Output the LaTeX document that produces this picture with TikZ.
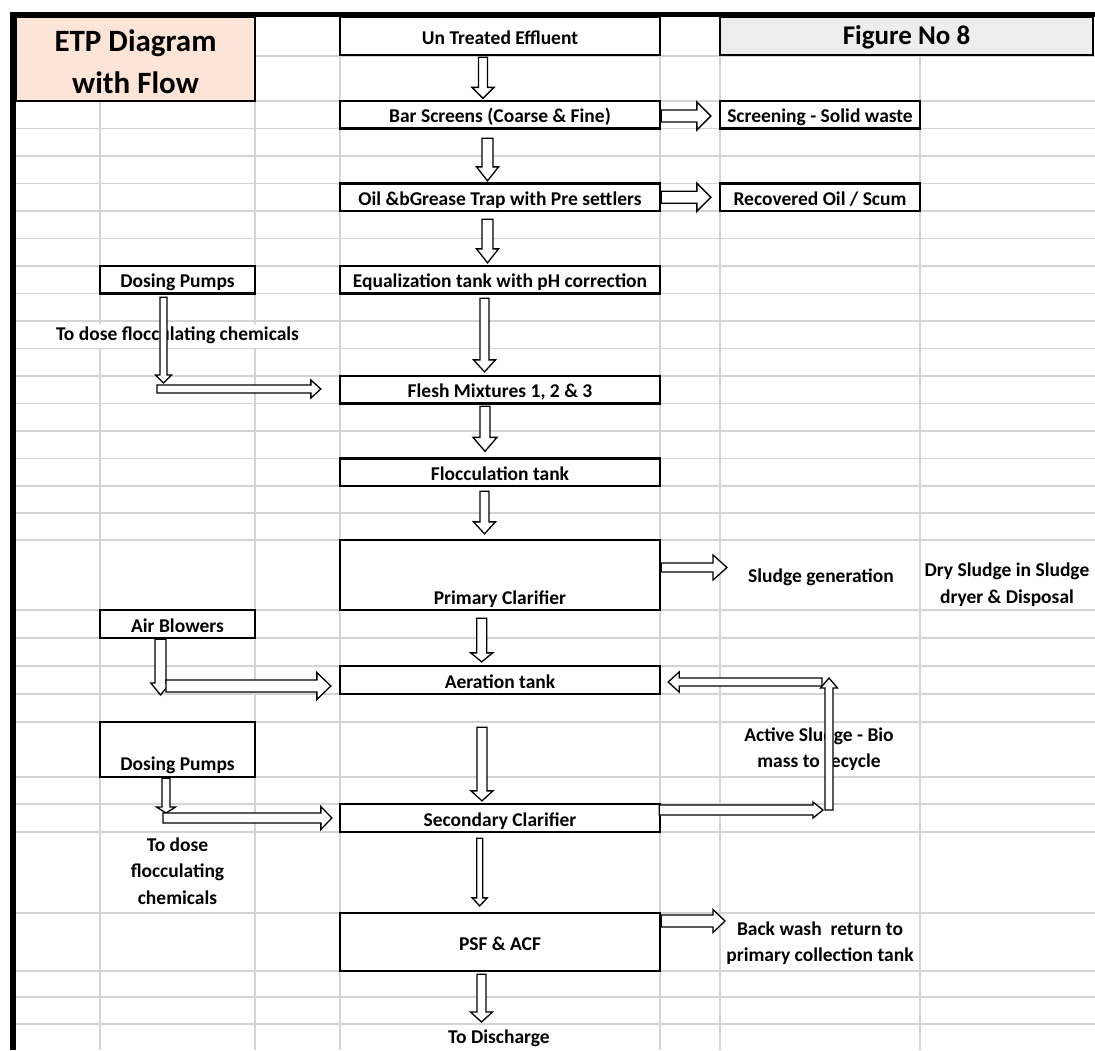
\documentclass[tikz,border=0pt]{standalone}
\usepackage{fontspec}
\setmainfont{Carlito}
\usetikzlibrary{calc}

\definecolor{gridgray}{HTML}{D4D4D4}
\definecolor{titlefill}{HTML}{FCE4D6}
\definecolor{figfill}{HTML}{EDEDED}

\newcommand{\cellfont}{\bfseries\fontsize{19.5}{26.5}\selectfont}

% hollow block arrow: #1 tail, #2 tip, #3 shaft half width, #4 head half width, #5 head length
\newcommand{\blockarrow}[5]{%
  \coordinate (ba-neck) at ($(#2)!#5!(#1)$);
  \draw[flowarrow] ($(#1)!#3!90:(#2)$) -- ($(ba-neck)!#3!-90:(#1)$)
    -- ($(ba-neck)!#4!-90:(#1)$) -- (#2) -- ($(ba-neck)!#4!90:(#1)$)
    -- ($(ba-neck)!#3!90:(#1)$) -- ($(#1)!#3!-90:(#2)$) -- cycle;}

\tikzset{
  gridline/.style={draw=gridgray, line width=1.3pt},
  procbox/.style={draw=black, line width=2.3pt, fill=white, inner sep=0pt,
    font=\cellfont, text height=16pt, text depth=0pt,
    minimum width=320pt, minimum height=27.5pt},
  sidebox/.style={procbox, minimum width=155pt},
  outbox/.style={procbox, minimum width=200pt},
  celltext/.style={inner sep=0pt, font=\cellfont, align=center},
  flowarrow/.style={draw=black, fill=white, line width=1.3pt, line join=miter},
}

\begin{document}
\begin{tikzpicture}[x=1pt, y=-1pt]
\useasboundingbox (0,0) rectangle (1095,1050);
\fill[white] (0,0) rectangle (1095,1050);

% sheet grid
\foreach \gy in {56,101,128.5,156,183.5,211,238.5,266,293.5,321,348.5,376,403.5,431,458.5,486,513,540,610,638,666,694,722,777,804,832,913,971,997,1024}
  \draw[gridline] (16,\gy) -- (1095,\gy);
\foreach \gx in {100,255,340,660,720,920}
  \draw[gridline] (\gx,17) -- (\gx,1050);

% heading cells
\node[draw=black, line width=2.3pt, fill=titlefill, inner sep=0pt,
      minimum width=239pt, minimum height=84pt,
      label={[align=center, inner sep=0pt, yshift=-3pt,
              font=\bfseries\fontsize{31}{42}\selectfont]center:ETP Diagram\\with Flow}] (title) at (135.5,59) {};
\node[procbox, minimum height=38pt] (ute) at (500,36) {Un Treated Effluent};
\node[procbox, fill=figfill, minimum width=373pt, minimum height=38pt,
      font=\bfseries\fontsize{27}{30}\selectfont] (fig) at (906.5,36) {Figure No 8};

% sheet frame
\draw[line width=5pt] (9.5,14.2) -- (1095,14.2);
\draw[line width=6pt] (12.5,11.7) -- (12.5,1050);

% process boxes
\node[procbox] (bar) at (500,114.75) {Bar Screens (Coarse \& Fine)};
\node[outbox] (scr) at (820,114.75) {Screening - Solid waste};
\node[procbox] (oil) at (500,197.25) {Oil \&bGrease Trap with Pre settlers};
\node[outbox] (rec) at (820,197.25) {Recovered Oil / Scum};
\node[sidebox] (dp1) at (177.5,279.75) {Dosing Pumps};
\node[procbox] (eq) at (500,279.75) {Equalization tank with pH correction};
\node[procbox] (flesh) at (500,389.75) {Flesh Mixtures 1, 2 \& 3};
\node[procbox] (floc) at (500,472.25) {Flocculation tank};
\node[procbox, minimum height=70pt,
      label={[celltext, anchor=south, yshift=3pt]south:Primary Clarifier}] (prim) at (500,575) {};
\node[sidebox, minimum height=28pt] (air) at (177.5,624) {Air Blowers};
\node[procbox, minimum height=28pt] (aer) at (500,680) {Aeration tank};
\node[sidebox, minimum height=55pt,
      label={[celltext, anchor=south, yshift=4pt]south:Dosing Pumps}] (dp2) at (177.5,749.5) {};
\node[procbox, minimum height=28pt] (sec) at (500,818) {Secondary Clarifier};
\node[procbox, minimum height=58pt] (psf) at (500,942) {PSF \& ACF};

% free-standing cell texts
\node[celltext, fill=white, minimum height=24pt] (dosetxt1) at (177.5,335.5) {To dose flocculating chemicals};
\node[celltext] (sludge) at (821,577) {Sludge generation};
\node[celltext] (dry) at (1007,584.5) {Dry Sludge in Sludge\\dryer \& Disposal};
\node[celltext] (active) at (819,749) {Active Sludge - Bio\\mass to recycle};
\node[celltext] (dosetxt2) at (177.5,871) {To dose\\flocculating\\chemicals};
\node[celltext] (backwash) at (820,943) {Back wash\ \ return to\\primary collection tank};
\node[celltext] (disc) at (499,1038) {To Discharge};

% arrow end points
\coordinate (a1s) at ($(ute.south)+(-17,1)$);
\coordinate (a1e) at ($(bar.north)+(-17,-1.5)$);
\coordinate (a2s) at ($(bar.south)+(-12.5,8.5)$);
\coordinate (a2e) at ($(oil.north)+(-12.5,-1.5)$);
\coordinate (a3s) at ($(oil.south)+(-12.5,7)$);
\coordinate (a3e) at ($(eq.north)+(-12.5,-2)$);
\coordinate (a4s) at ($(eq.south)+(-15.5,3.5)$);
\coordinate (a4e) at ($(flesh.north)+(-15.5,-3)$);
\coordinate (a5s) at ($(flesh.south)+(-15,1.5)$);
\coordinate (a5e) at ($(floc.north)+(-15,-6)$);
\coordinate (a6s) at ($(floc.south)+(-15.5,4)$);
\coordinate (a6e) at ($(prim.north)+(-15.5,-5)$);
\coordinate (a7s) at ($(prim.south)+(-18.3,7)$);
\coordinate (a7e) at ($(aer.north)+(-18.3,-3)$);
\coordinate (a8s) at ($(aer.south)+(-18,32)$);
\coordinate (a8e) at ($(sec.north)+(-18,-2)$);
\coordinate (a9s) at ($(sec.south)+(-20.3,5)$);
\coordinate (a9e) at ($(psf.north)+(-20.3,-6)$);
\coordinate (a10s) at ($(psf.south)+(-18.5,2)$);
\coordinate (a10e) at ($(disc.center)+(-17.5,-16)$);

\coordinate (b1s) at ($(bar.east)+(0,1.25)$);
\coordinate (b1e) at ($(scr.west)+(-8,1.25)$);
\coordinate (b2s) at ($(oil.east)+(0,0)$);
\coordinate (b2e) at ($(rec.west)+(-8,0)$);

\coordinate (c1s) at ($(dp1.south)+(-14,2.5)$);
\coordinate (c1e) at (163.5,383);
\coordinate (c2s) at (157,389);
\coordinate (c2e) at ($(flesh.west)+(-18,-0.75)$);

\coordinate (d1s) at ($(air.south)+(-17,0)$);
\coordinate (d1e) at (160.5,695);
\coordinate (d2s) at (166,686);
\coordinate (d2e) at ($(aer.west)+(-8,6)$);

\coordinate (e1s) at ($(dp2.south)+(-11.5,0)$);
\coordinate (e1e) at (166,813);
\coordinate (e2s) at (163,818);
\coordinate (e2e) at ($(sec.west)+(-7,0)$);

\coordinate (f1s) at ($(prim.east)+(0,-7.5)$);
\coordinate (f1e) at (727,567.5);

\coordinate (g1s) at ($(sec.east)+(-2,-8)$);
\coordinate (g1e) at (823,810);
\coordinate (g2s) at (829,810);
\coordinate (g2e) at (829,678);
\coordinate (g3s) at (822,682);
\coordinate (g3e) at ($(aer.east)+(7,2)$);

\coordinate (h1s) at ($(psf.east)+(0,-21)$);
\coordinate (h1e) at (725,921);

% main treatment line
\blockarrow{a1s}{a1e}{4.5pt}{11pt}{11pt}
\blockarrow{a2s}{a2e}{5.5pt}{11pt}{14pt}
\blockarrow{a3s}{a3e}{5.5pt}{11pt}{14pt}
\blockarrow{a4s}{a4e}{4.5pt}{11pt}{12pt}
\blockarrow{a5s}{a5e}{5pt}{12pt}{14pt}
\blockarrow{a6s}{a6e}{4.5pt}{11pt}{12pt}
\blockarrow{a7s}{a7e}{5pt}{11pt}{9pt}
\blockarrow{a8s}{a8e}{5pt}{11pt}{10pt}
\blockarrow{a9s}{a9e}{3pt}{7.5pt}{8pt}
\blockarrow{a10s}{a10e}{4.5pt}{11pt}{10pt}

% side streams
\blockarrow{b1s}{b1e}{6pt}{14pt}{14pt}
\blockarrow{b2s}{b2e}{6pt}{14pt}{14pt}
\blockarrow{f1s}{f1e}{4.5pt}{12.5pt}{14pt}
\blockarrow{h1s}{h1e}{6pt}{11.5pt}{12pt}

% chemical and air feeds
\blockarrow{c2s}{c2e}{4pt}{9pt}{10pt}
\blockarrow{c1s}{c1e}{3.5pt}{8pt}{8pt}
\blockarrow{d1s}{d1e}{5.5pt}{9.7pt}{12pt}
\blockarrow{d2s}{d2e}{6pt}{13.5pt}{14pt}
\blockarrow{e1s}{e1e}{4pt}{9.5pt}{6pt}
\blockarrow{e2s}{e2e}{5pt}{11.5pt}{11pt}

% activated sludge return loop
\blockarrow{g1s}{g1e}{5pt}{8pt}{10pt}
\blockarrow{g3s}{g3e}{4pt}{10pt}{11pt}
\blockarrow{g2s}{g2e}{4pt}{8.5pt}{10pt}
\end{tikzpicture}
\end{document}
